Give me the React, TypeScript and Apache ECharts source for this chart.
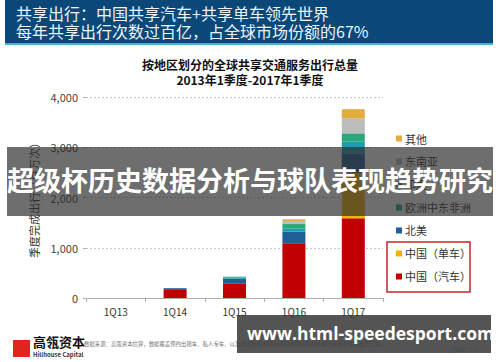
import React, { useEffect, useRef } from "react";
import * as echarts from "echarts";

const categories = ["1Q13", "1Q14", "1Q15", "1Q16", "1Q17"];
const chinaCar = [0, 160, 292, 1088, 1586];
const chinaBike = [0, 0, 0, 0, 907];
const northAmerica = [0, 35, 92, 230, 386];
const emea = [0, 0, 20, 60, 231];
const india = [0, 0, 20, 94, 167];
const southeastAsia = [0, 0, 0, 60, 300];
const others = [0, 0, 0, 34, 180];
const yTicks = [0, 1000, 2000, 3000, 4000];

const FONT = "'Noto Sans CJK SC', 'Noto Sans', sans-serif";

export default function App() {
  const ref = useRef<HTMLDivElement>(null);
  useEffect(() => {
    if (!ref.current) return;
    const chart = echarts.init(ref.current, null, { renderer: "svg" });
    const seriesDefs = [
      { name: "中国（汽车）", data: chinaCar, color: "#c00000" },
      { name: "中国（单车）", data: chinaBike, color: "#f3b400" },
      { name: "北美", data: northAmerica, color: "#1f5f96" },
      { name: "欧洲中东非洲", data: emea, color: "#1a9fb2" },
      { name: "印度", data: india, color: "#2aa87a" },
      { name: "东南亚", data: southeastAsia, color: "#bdbdbd" },
      { name: "其他", data: others, color: "#e3ac3c" },
    ];
    chart.setOption({
      animation: false,
      textStyle: { fontFamily: FONT },
      grid: { left: 86, right: 117, top: 97, bottom: 64 },
      legend: {
        orient: "vertical",
        left: 391,
        top: 128,
        itemWidth: 6,
        itemHeight: 6,
        itemGap: 12,
        icon: "rect",
        textStyle: { fontSize: 11, color: "#333", fontFamily: FONT, padding: [0, 0, 0, -2] },
        data: ["其他", "东南亚", "印度", "欧洲中东非洲", "北美", "中国（单车）", "中国（汽车）"],
      },
      xAxis: {
        type: "category",
        data: categories,
        axisLine: { lineStyle: { color: "#b0b0b0" } },
        axisTick: { show: true, length: 4, lineStyle: { color: "#b0b0b0" } },
        axisLabel: { fontSize: 10, color: "#333", margin: 8 },
      },
      yAxis: {
        type: "value",
        min: yTicks[0],
        max: yTicks[yTicks.length - 1],
        interval: 1000,
        name: "季度完成出行（百万次）",
        nameLocation: "middle",
        nameGap: 42,
        nameRotate: 90,
        nameTextStyle: { fontSize: 11, color: "#333" },
        axisLine: { show: false },
        axisTick: { show: true, length: 3, lineStyle: { color: "#b0b0b0" } },
        axisLabel: {
          fontSize: 11,
          color: "#444",
          margin: 8,
          formatter: (v: number) => v.toLocaleString("en-US"),
        },
        splitLine: { lineStyle: { color: "#c8c8c8", type: [2, 2] } },
      },
      series: seriesDefs.map((s) => ({
        name: s.name,
        type: "bar",
        stack: "total",
        barWidth: 23,
        data: s.data,
        itemStyle: { color: s.color },
      })),
      graphic: [
        { type: "rect", z: 50, shape: { x: 5, y: 0, width: 488, height: 43 }, style: { fill: "#0b4877" } },
        { type: "rect", z: 50, shape: { x: 5, y: 43, width: 488, height: 2 }, style: { fill: "#39b6d8" } },
        {
          type: "text", z: 51, left: 16, top: 5,
          style: { text: "共享出行：中国共享汽车+共享单车领先世界", fill: "#eef4fa", fontSize: 16, fontFamily: FONT },
        },
        {
          type: "text", z: 51, left: 16, top: 23,
          style: { text: "每年共享出行次数过百亿，占全球市场份额的67%", fill: "#eef4fa", fontSize: 16, fontFamily: FONT },
        },
        {
          type: "text", z: 51, left: "center", top: 58,
          style: { text: "按地区划分的全球共享交通服务出行总量", fill: "#111", fontSize: 12, fontWeight: "bold", fontFamily: FONT },
        },
        {
          type: "text", z: 51, left: "center", top: 73,
          style: { text: "2013年1季度-2017年1季度", fill: "#111", fontSize: 12, fontWeight: "bold", fontFamily: FONT },
        },
        {
          type: "rect", z: 50, shape: { x: 387, y: 242, width: 83, height: 50 },
          style: { fill: "none", stroke: "#c4262d", lineWidth: 1.5 },
        },
        // footer
        { type: "rect", z: 50, shape: { x: 13, y: 340, width: 17, height: 17 }, style: { fill: "#e1241e" } },
        {
          type: "text", z: 51, left: 33, top: 335,
          style: { text: "高瓴资本", fill: "#111", fontSize: 13, fontWeight: "bold", fontFamily: FONT },
        },
        {
          type: "text", z: 51, left: 33, top: 351,
          style: { text: "Hillhouse Capital", fill: "#333", fontSize: 6, fontWeight: "bold", fontFamily: FONT },
        },
        {
          type: "text", z: 51, left: 84, top: 341,
          style: {
            text: "数据来源：高瓴资本估算，数据覆盖预约出租车、私人专车、以及通过智能手机应用程序预订的共享摩托车和单车等出行工具。",
            fill: "#777", fontSize: 5.4, fontFamily: FONT,
          },
        },
        {
          type: "text", z: 51, left: 450, top: 346,
          style: { text: "| PAGE 2/2", fill: "#999", fontSize: 6, fontFamily: FONT },
        },
        // overlay band
        { type: "rect", z: 100, shape: { x: 7, y: 147, width: 486, height: 69 }, style: { fill: "rgba(45,45,45,0.69)" } },
        {
          type: "text", z: 101, left: "center", top: 166,
          style: { text: "超级杯历史数据分析与球队表现趋势研究", fill: "#ffffff", fontSize: 27, fontWeight: "bold", fontFamily: FONT },
        },
        { type: "rect", z: 100, shape: { x: 237, y: 315, width: 254, height: 38 }, style: { fill: "rgba(60,60,60,0.88)" } },
        {
          type: "text", z: 101, left: 247, top: 324,
          style: { text: "www.html-speedesport.com", fill: "#ffffff", fontSize: 17.5, fontWeight: "bold", fontFamily: "'Open Sans', 'DejaVu Sans', sans-serif" },
        },
      ],
    });
    return () => chart.dispose();
  }, []);
  return (
    <div
      ref={ref}
      style={{ position: "absolute", left: 0, top: 0, width: 500, height: 362, background: "#fff" }}
    />
  );
}
